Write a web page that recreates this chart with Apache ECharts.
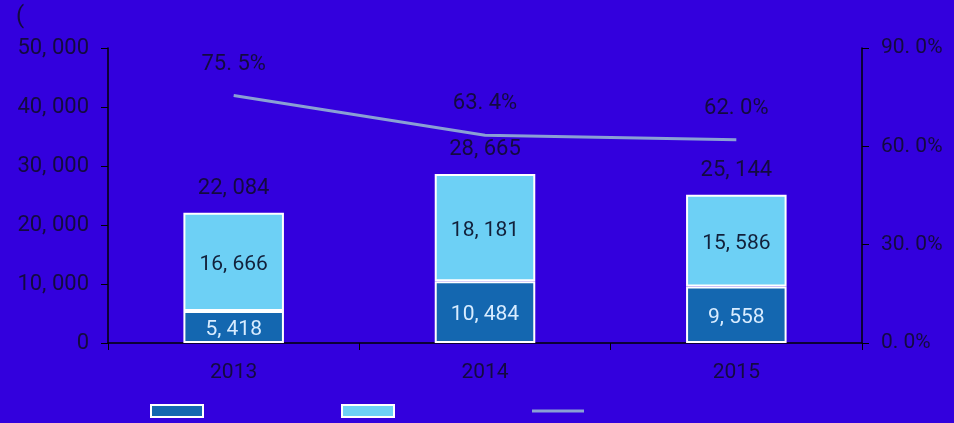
<!DOCTYPE html>
<html>
<head>
<meta charset="utf-8">
<script src="https://cdn.jsdelivr.net/npm/echarts@6/dist/echarts.min.js"></script>
<style>
html,body{margin:0;padding:0;background:#3300DD;}
#c{width:954px;height:423px;}
</style>
</head>
<body>
<div id="c"></div>
<script>
const categories = ['2013', '2014', '2015'];
const seriesNames = ['A', 'B', 'C'];
const darkValues = [5418, 10484, 9558];
const lightValues = [16666, 18181, 15586];
const ratioValues = [75.5, 63.4, 62.0];
const leftTicks = [0, 10000, 20000, 30000, 40000, 50000];
const rightTicks = [0, 30, 60, 90];

const totals = darkValues.map((v, i) => v + lightValues[i]);
const FONT = "Roboto, 'Noto Sans', sans-serif";
const fmtNum = v => Math.round(v).toString().replace(/\B(?=(\d{3})+(?!\d))/g, ', ');
const fmtPct = v => v.toFixed(1).replace('.', '. ') + '%';
const ink = '#140a40';
const clear = 'rgba(0,0,0,0)';
const lineColor = '#8AA0D4';

const chart = echarts.init(document.getElementById('c'));
chart.setOption({
  backgroundColor: '#3300DD',
  animation: false,
  graphic: [{
    type: 'text', left: 16, top: 5,
    style: { text: '(', fontSize: 24, fontFamily: FONT, fill: ink }
  }],
  grid: { left: 108, right: 92, top: 48, bottom: 80 },
  legend: {
    top: 399, left: 145,
    itemWidth: 52, itemHeight: 12, itemGap: 137,
    formatter: () => '',
    data: [
      { name: seriesNames[0], icon: 'rect', itemStyle: { borderColor: '#fff', borderWidth: 2 } },
      { name: seriesNames[1], icon: 'rect', itemStyle: { borderColor: '#fff', borderWidth: 2 } },
      { name: seriesNames[2], icon: 'path://M0,0M0,4.5H54V7.5H0ZM54,12', itemStyle: { color: lineColor } }
    ]
  },
  xAxis: {
    type: 'category',
    data: categories,
    axisLine: { lineStyle: { color: '#000', width: 1.5 } },
    axisTick: { show: true, length: 7, lineStyle: { color: '#000' } },
    axisLabel: { color: ink, fontSize: 21, fontFamily: FONT, margin: 19 }
  },
  yAxis: [{
    type: 'value', min: leftTicks[0], max: leftTicks[leftTicks.length - 1], interval: 10000,
    axisLine: { show: true, lineStyle: { color: '#000', width: 1.5 } },
    axisTick: { show: true, length: 7, lineStyle: { color: '#000' } },
    splitLine: { show: false },
    axisLabel: { color: ink, fontSize: 22, fontFamily: FONT, margin: 19, formatter: fmtNum }
  }, {
    type: 'value', min: rightTicks[0], max: rightTicks[rightTicks.length - 1], interval: 30,
    axisLine: { show: true, lineStyle: { color: '#000', width: 1.5 } },
    axisTick: { show: true, length: 7, lineStyle: { color: '#000' } },
    splitLine: { show: false },
    axisLabel: { color: ink, fontSize: 21, fontFamily: FONT, margin: 19, formatter: fmtPct }
  }],
  series: [{
    name: seriesNames[0], type: 'bar', stack: 'x', barWidth: '40%',
    data: darkValues,
    itemStyle: { color: '#1467B0', borderColor: '#fff', borderWidth: 2 },
    label: { show: true, position: 'inside', offset: [0, 3], color: '#d8ecff', fontSize: 21, fontFamily: FONT,
      formatter: p => fmtNum(p.value) }
  }, {
    name: seriesNames[1], type: 'bar', stack: 'x', barWidth: '40%',
    data: lightValues,
    itemStyle: { color: '#6DD0F5', borderColor: '#fff', borderWidth: 2 },
    label: { show: true, position: 'inside', offset: [0, 3], color: '#12203a', fontSize: 21, fontFamily: FONT,
      formatter: p => fmtNum(p.value) }
  }, {
    name: seriesNames[2], type: 'line', yAxisIndex: 1, data: ratioValues,
    symbol: 'none',
    lineStyle: { color: lineColor, width: 3 },
    itemStyle: { color: lineColor }
  }, {
    name: 'totalLabels', type: 'line', data: totals,
    symbol: 'circle', symbolSize: 2, showSymbol: true, silent: true,
    itemStyle: { color: clear, borderColor: clear }, lineStyle: { width: 0, color: clear },
    label: { show: true, position: 'top', distance: 12, color: ink, fontSize: 22, fontFamily: FONT,
      formatter: p => fmtNum(p.value) }
  }, {
    name: 'ratioLabels', type: 'line', yAxisIndex: 1, data: ratioValues,
    symbol: 'circle', symbolSize: 2, showSymbol: true, silent: true,
    itemStyle: { color: clear, borderColor: clear }, lineStyle: { width: 0, color: clear },
    label: { show: true, position: 'top', distance: 19, color: ink, fontSize: 22, fontFamily: FONT,
      formatter: p => fmtPct(p.value) }
  }]
});
</script>
</body>
</html>
